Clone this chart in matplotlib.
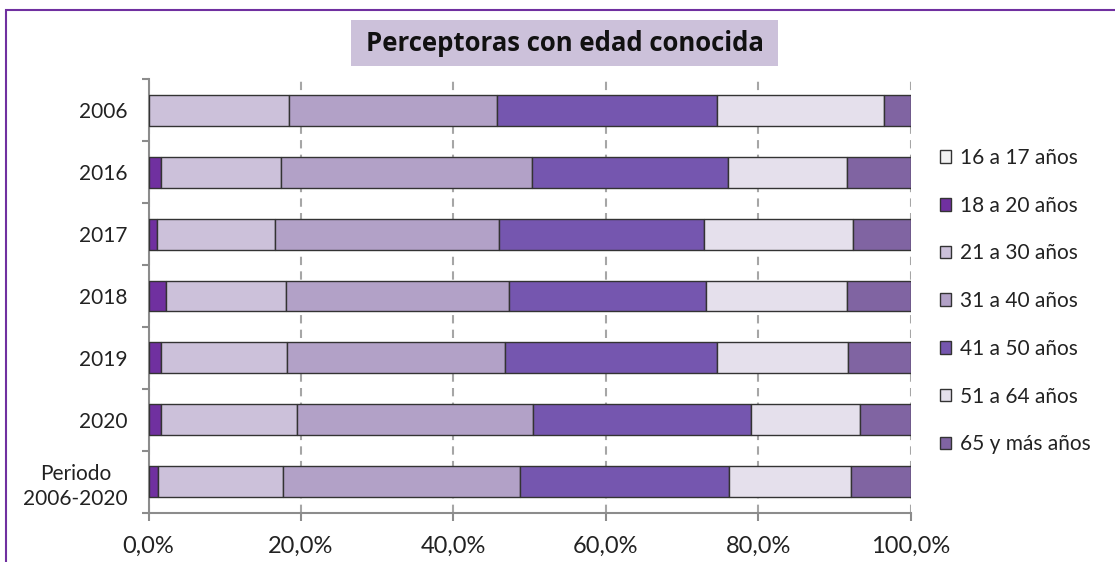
import matplotlib
matplotlib.use("Agg")
import matplotlib.pyplot as plt
import matplotlib.patches as mpatches
import numpy as np

categories = ["2006", "2016", "2017", "2018", "2019", "2020", "Periodo\n2006-2020"]
series_names = ["16 a 17 años", "18 a 20 años", "21 a 30 años", "31 a 40 años",
                "41 a 50 años", "51 a 64 años", "65 y más años"]
s16_17 = [0.0, 0.0, 0.0, 0.0, 0.0, 0.0, 0.0]
s18_20 = [0.0, 1.6, 1.1, 2.3, 1.7, 1.6, 1.2]
s21_30 = [18.5, 15.8, 15.5, 15.7, 16.5, 17.9, 16.5]
s31_40 = [27.3, 32.9, 29.4, 29.3, 28.6, 31.0, 31.1]
s41_50 = [28.8, 25.8, 26.9, 25.9, 27.8, 28.6, 27.4]
s51_64 = [21.9, 15.6, 19.5, 18.5, 17.2, 14.3, 16.0]
s65 = [3.5, 8.3, 7.6, 8.3, 8.2, 6.6, 7.8]
series = [s16_17, s18_20, s21_30, s31_40, s41_50, s51_64, s65]
colors = ["#F2F2F2", "#7030A0", "#CCC1DA", "#B2A1C7", "#7556AF", "#E5E0EC", "#8064A2"]
xticks = [0, 20, 40, 60, 80, 100]
xtick_labels = ["0,0%", "20,0%", "40,0%", "60,0%", "80,0%", "100,0%"]

FONT = "Lato"
W, H = 1115, 562
fig = plt.figure(figsize=(W / 100, H / 100), dpi=100)

ax = fig.add_axes([148.5 / W, 1 - 512.7 / H, 762 / W, (512.7 - 79.3) / H])

y = np.arange(len(categories))
left = np.zeros(len(categories))
handles = []
for name, vals, col in zip(series_names, series, colors):
    vals = np.array(vals, dtype=float)
    ax.barh(y, vals, left=left, height=0.5, color=col, edgecolor="#333333",
            linewidth=1.0, zorder=3)
    left += vals
    handles.append(mpatches.Patch(facecolor=col, edgecolor="#333333", linewidth=1.0, label=name))

ax.set_xlim(0, 100)
ax.set_ylim(len(categories) - 0.5, -0.5)

grey = "#8C8C8C"
for s in ["top", "right"]:
    ax.spines[s].set_visible(False)
ax.spines["left"].set_color(grey)
ax.spines["bottom"].set_color(grey)
ax.spines["left"].set_linewidth(1.5)
ax.spines["bottom"].set_linewidth(1.5)

ax.set_xticks(xticks)
ax.set_xticklabels(xtick_labels, fontsize=17, family=FONT, color="#222222")
ax.tick_params(axis="x", length=6, width=1.5, color=grey, pad=11)
ax.xaxis.grid(True, color="#A6A6A6", linestyle=(0, (4, 3)), linewidth=1.5, zorder=0)
ax.set_axisbelow(True)

ax.set_yticks(np.arange(-0.5, len(categories), 1.0))
ax.set_yticklabels([])
ax.tick_params(axis="y", which="major", length=5, width=1.5, color=grey)
ax.set_yticks(y, minor=True)
ax.set_yticklabels(categories, minor=True, fontsize=15, family=FONT, color="#222222",
                   ha="right", multialignment="center", linespacing=1.3)
ax.tick_params(axis="y", which="minor", length=0, pad=15)

leg = fig.legend(handles=handles, loc="upper left",
                 bbox_to_anchor=(940 / W, 1 - 148 / H), frameon=False,
                 prop={"family": FONT, "size": 15}, handlelength=0.55,
                 handleheight=0.55, handletextpad=0.4, labelspacing=1.33,
                 borderpad=0, borderaxespad=0)
for t in leg.get_texts():
    t.set_color("#222222")

# title box
fig.patches.append(mpatches.Rectangle((350.7 / W, 1 - 66 / H), (778.3 - 350.7) / W, 46 / H,
                                      transform=fig.transFigure, facecolor="#CCC1DA",
                                      edgecolor="none", zorder=1))
fig.text(564.5 / W, 1 - 43.5 / H, "Perceptoras con edad conocida", ha="center", va="center",
         fontsize=18.5, fontweight="bold", family="Open Sans", color="#111111", zorder=2)

# chart border
fig.patches.append(mpatches.Rectangle((6 / W, -0.1), 1.5, 1 - 9.5 / H + 0.1,
                                      transform=fig.transFigure, fill=False,
                                      edgecolor="#7030A0", linewidth=1.5))

fig.savefig("out.png", dpi=100)
